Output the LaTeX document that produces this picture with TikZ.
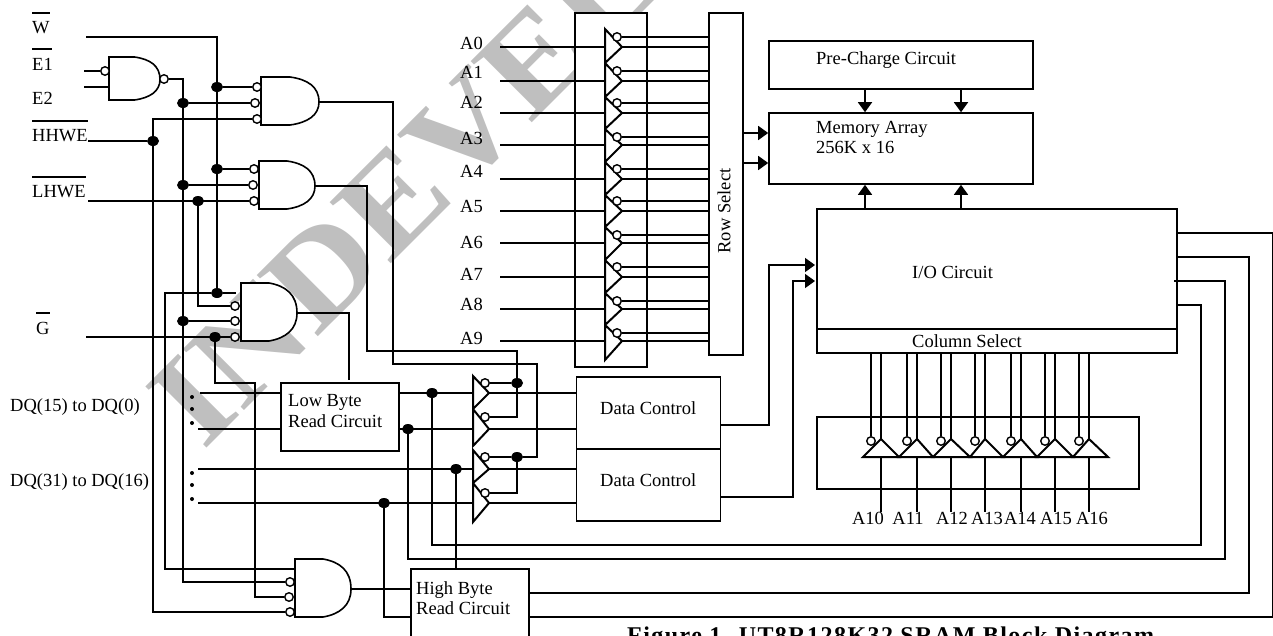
\documentclass[tikz,border=0pt]{standalone}
\usepackage{fontspec}
\setmainfont{Liberation Serif}
\newfontfamily\capfont[LetterSpace=6]{Liberation Serif}
\usepackage{xcolor}
\usepackage{tikz}
\usetikzlibrary{shapes,positioning,calc,arrows.meta}

\tikzset{
    wire/.style={line width=1.6pt},
    edge/.style={line width=2pt,line join=miter,fill=white},
    arr/.style={wire,-{Triangle[length=10pt,width=14pt]}},
    block/.style={draw,line width=1.6pt,fill=white,rectangle,inner sep=0pt},
    lbl/.style={anchor=west,inner sep=0pt,align=left,font=\fontsize{18.5}{20.5}\selectfont},
    dot/.style={fill=black,ellipse,inner sep=0pt,minimum width=12pt,minimum height=10pt},
    tick/.style={fill=black,circle,inner sep=0pt,minimum size=4pt},
    bub/.style={draw,line width=1.4pt,fill=white,circle,inner sep=0pt,minimum size=8.5pt}
}
% left, top, width, height, name of the output point
\newcommand{\andgate}[5]{
    \draw[wire,fill=white] (#1,#2) -- ({#1+.5*#3},#2)
        .. controls ({#1+.8*#3},{#2+.05*#4}) and ({#1+#3},{#2+.2*#4}) .. ({#1+#3},{#2+.5*#4+1})
        .. controls ({#1+#3},{#2+.8*#4}) and ({#1+.8*#3},{#2+.95*#4}) .. ({#1+.5*#3},{#2+#4})
        -- (#1,{#2+#4}) -- cycle;
    \coordinate (#5) at ({#1+#3},{#2+.5*#4+1});
}

\begin{document}
\begin{tikzpicture}[x=1pt,y=-1pt]
    \path[use as bounding box,clip] (0,0) rectangle (1273,635);
    \node[rotate=45,anchor=base west,inner sep=0pt,text=black!25,font=\fontsize{132}{150}\bfseries\selectfont] (mark) at (203,452) {\scalebox{1.09}[1]{INDEVEL}};

    % signal names on the left
    \node[lbl] (sigW) at (32,28) {W};
    \node[lbl] (sigEa) at (32,64) {E1};
    \node[lbl] (sigEb) at (32,98) {E2};
    \node[lbl] (sigH) at (32,136) {HHWE};
    \node[lbl] (sigL) at (32,192) {LHWE};
    \node[lbl] (sigG) at (36,328) {G};
    \node[lbl] (sigQa) at (10,407) {DQ(15) to DQ(0)};
    \node[lbl] (sigQb) at (10,482) {DQ(31) to DQ(16)};
    \draw[wire] (32,13) -- (50,13);
    \draw[wire] (32,49) -- (52,49);
    \draw[wire] (32,121) -- (88,121);
    \draw[wire] (32,177) -- (86,177);
    \draw[wire] (36,313) -- (50,313);

    \coordinate (inW) at (86,37);
    \coordinate (inEa) at (84,71);
    \coordinate (inEb) at (84,87);
    \coordinate (inH) at (88,141);
    \coordinate (inL) at (88,201);
    \coordinate (inG) at (86,337);
    \coordinate (gateN) at (109,87);
    \coordinate (q1) at (200,393);
    \coordinate (q2) at (198,429);
    \coordinate (q3) at (198,469);
    \coordinate (q4) at (198,503);
    \foreach \n/\y in {1/397,2/409,3/423,4/473,5/485,6/499}
        \node[tick] (tk\n) at (192,\y) {};

    % junctions
    \node[dot] (dA1) at (217,87) {};
    \node[dot] (dB1) at (217,169) {};
    \node[dot] (dC1) at (217,293) {};
    \node[dot] (dA2) at (183,103) {};
    \node[dot] (dB2) at (183,185) {};
    \node[dot] (dC3) at (183,321) {};
    \node[dot] (dH) at (153,141) {};
    \node[dot] (dL) at (198,201) {};
    \node[dot] (dG) at (215,337) {};
    \node[dot] (dR1) at (432,393) {};
    \node[dot] (dR2) at (408,429) {};
    \node[dot] (dR3) at (456,469) {};
    \node[dot] (dR4) at (384,503) {};
    \node[dot] (dE1) at (517,383) {};
    \node[dot] (dE2) at (517,457) {};

    % boxes
    \node[block,minimum width=264pt,minimum height=48pt] (prech) at (901,65) {};
    \node[block,minimum width=264pt,minimum height=71pt] (mem) at (901,148.5) {};
    \node[block,minimum width=360pt,minimum height=120pt] (io) at (997,269) {};
    \node[block,minimum width=360pt,minimum height=24pt] (colsel) at (997,341) {};
    \node[block,minimum width=322pt,minimum height=72pt] (coldec) at (978,453) {};
    \node[block,minimum width=72pt,minimum height=354pt] (rowdec) at (611,190) {};
    \node[block,minimum width=34pt,minimum height=342pt] (rowsel) at (726,184) {};
    \node[block,minimum width=144pt,minimum height=72pt] (dcA) at (648.5,413) {};
    \node[block,minimum width=144pt,minimum height=72pt] (dcB) at (648.5,485) {};
    \node[block,minimum width=118pt,minimum height=68pt] (low) at (340,417) {};
    \node[block,minimum width=118pt,minimum height=72pt] (high) at (470,605) {};

    \node[lbl] (tPre) at (816,60) {Pre-Charge Circuit};
    \node[lbl] (tMem) at (816,137.5) {Memory Array\\256K x 16};
    \node[lbl] (tIO) at (912,272) {I/O Circuit};
    \node[lbl] (tCol) at (912,341) {Column Select};
    \node[lbl,rotate=90,anchor=center] (tRow) at (724,211) {Row Select};
    \node[lbl] (tDa) at (600,408) {Data Control};
    \node[lbl] (tDb) at (600,480) {Data Control};
    \node[lbl] (tLow) at (288,411) {Low Byte\\Read Circuit};
    \node[lbl] (tHigh) at (416,598) {High Byte\\Read Circuit};
    \node[anchor=base west,inner sep=0pt,font=\fontsize{24}{28}\capfont\bfseries\selectfont] (caption) at (627,643)
        {Figure 1. UT8R128K32 SRAM Block Diagram};

    % gates
    \andgate{109}{57}{51}{43}{gN}
    \andgate{261}{77}{58}{48}{gA}
    \andgate{259}{161}{56}{48}{gB}
    \andgate{241}{283}{56}{58}{gC}
    \andgate{295}{559}{56}{58}{gD}
    \node[bub] (bNa) at (105,71) {};
    \node[bub] (bNo) at (164,79) {};
    \node[bub] (bA1) at (257,87) {};
    \node[bub] (bA2) at (255,103) {};
    \node[bub] (bA3) at (257,119) {};
    \node[bub] (bB1) at (254,169) {};
    \node[bub] (bB2) at (253,185) {};
    \node[bub] (bB3) at (254,201) {};
    \node[bub] (bC2) at (235,306) {};
    \node[bub] (bC3) at (235,321) {};
    \node[bub] (bC4) at (235,337) {};
    \node[bub] (bD1) at (290,582) {};
    \node[bub] (bD2) at (289,597) {};
    \node[bub] (bD3) at (290,612) {};

    \coordinate (topC) at (236,293);
    \coordinate (topD) at (295,569);
    \coordinate (cW) at (165,293);
    \coordinate (cG) at (255,383);
    \coordinate (cA) at (393,364);
    \coordinate (cAb) at (537,364);
    \coordinate (cB) at (367,351);
    \coordinate (cC) at (349,380);
    \coordinate (cHi) at (411,617);

    \draw[wire] (inW) -| (dC1);
    \draw[wire] (inEa) -- (bNa);
    \draw[wire] (inEb) -- (gateN);
    \draw[wire] (dA1) -- (bA1);
    \draw[wire] (dB1) -- (bB1);
    \draw[wire] (dC1) -- (topC);
    \draw[wire] (dC1) -- (cW) |- (topD);
    \draw[wire] (bNo) -| (dA2);
    \draw[wire] (dA2) |- (bD1);
    \draw[wire] (dA2) -- (bA2);
    \draw[wire] (dB2) -- (bB2);
    \draw[wire] (dC3) -- (bC3);
    \draw[wire] (inH) -- (dH);
    \draw[wire] (bA3) -| (dH);
    \draw[wire] (dH) |- (bD3);
    \draw[wire] (inL) -- (bB3);
    \draw[wire] (dL) |- (bC2);
    \draw[wire] (inG) -- (bC4);
    \draw[wire] (dG) |- (cG) |- (bD2);
    \draw[wire] (gA) -| (cA) -- (cAb) |- (dE2);
    \draw[wire] (gB) -| (cB) -| (dE1);
    \draw[wire] (gC) -| (cC);
    \draw[wire] (gD) -- (gD -| high.west);
    \draw[wire] (dR3) -- (dR3 |- high.north);
    \draw[wire] (dR4) |- (cHi);
    \draw[wire] (q1) -- (q1 -| low.west);
    \draw[wire] (q2) -- (q2 -| low.west);

    % data path switches
    \foreach \n/\yt/\yi/\ye/\yb in {1/376/393/383/409,2/409/429/417/446,3/450/469/457/483,4/483/503/493/522}{
        \draw[edge] (473,\yt) -- (489,\yi) -- (473,\yb) -- cycle;
        \coordinate (mb\n) at (473,\yi);
        \coordinate (mt\n) at (489,\yi);
        \node[bub] (mc\n) at (485,\ye) {};
        \draw[wire] (mt\n) -- (mt\n -| dcA.west);
    }
    \draw[wire] (q1 -| low.east) -- (mb1);
    \draw[wire] (q2 -| low.east) -- (mb2);
    \draw[wire] (q3) -- (mb3);
    \draw[wire] (q4) -- (mb4);
    \draw[wire] (mc1) -- (dE1);
    \draw[wire] (dE1) |- (mc2);
    \draw[wire] (mc3) -- (dE2);
    \draw[wire] (dE2) |- (mc4);

    % returns from the read circuits to the I/O circuit
    \coordinate (fA) at (1201,545);
    \coordinate (fB) at (1225,559);
    \coordinate (fC) at (1249,593);
    \coordinate (fD) at (1272.5,617);
    \draw[wire] (dR1) |- (fA) |- (io.east |- 0,305);
    \draw[wire] (dR2) |- (fB) |- (1174,281);
    \draw[wire] (high.east |- fC) -- (fC) |- (io.east |- 0,257);
    \draw[wire] (high.east |- fD) -- (fD) |- (io.east |- 0,233);

    % data control to I/O circuit
    \coordinate (dcoA) at (721,425);
    \coordinate (dcoB) at (721,497);
    \coordinate (cioA) at (769,265);
    \coordinate (cioB) at (793,281);
    \draw[arr] (dcoA) -| (cioA) -- (815,265);
    \draw[arr] (dcoB) -| (cioB) -- (815,281);

    % arrows into the memory array
    \foreach \x in {865,961}{
        \draw[arr] (\x,0 |- prech.south) -- (\x,0 |- mem.north);
        \draw[arr] (\x,0 |- io.north) -- (\x,0 |- mem.south);
    }
    \foreach \y in {133,163}
        \draw[arr] (rowsel.east |- 0,\y) -- (mem.west |- 0,\y);

    % row address buffers
    \foreach \n/\yl/\yt/\yi/\ye/\yb in {0/43/29/47/37/63,1/72/63/81/71/97,2/102/97/113/103/129,3/138/129/145/137/162,4/171/162/179/169/195,5/206/195/211/201/227,6/242/227/243/235/260,7/274/260/277/267/293,8/304/293/309/301/325,9/338/325/341/333/360}{
        \node[lbl] (addr\n) at (460,\yl) {A\n};
        \coordinate (rin\n) at (500,\yi);
        \draw[wire] (rin\n) -- (605,\yi);
        \draw[edge] (605,\yt) -- (622,\yi) -- (605,\yb) -- cycle;
        \draw[wire] (622,\yi) -- (rowsel.west |- 0,\yi);
        \node[bub] (rb\n) at (617,\ye) {};
        \draw[wire] (rb\n) -- (rowsel.west |- rb\n);
    }

    % column address buffers
    \foreach \n/\xl/\xa/\xr/\xb/\xt in {10/863/881/899/871/868,11/899/917/933/907/908,12/933/951/970/941/952,13/970/985/1003/975/987,14/1003/1021/1037/1011/1020,15/1037/1055/1073/1045/1056,16/1073/1089/1108/1079/1092}{
        \draw[wire] (\xa,0 |- colsel.south) -- (\xa,439);
        \draw[edge] (\xl,457) -- (\xa,439) -- (\xr,457) -- cycle;
        \coordinate (cin\n) at (\xa,512);
        \draw[wire] (\xa,457) -- (cin\n);
        \node[bub] (cb\n) at (\xb,441) {};
        \draw[wire] (cb\n) -- (cb\n |- colsel.south);
        \node[lbl,anchor=center] (addr\n) at (\xt,518) {A\n};
    }
\end{tikzpicture}
\end{document}
